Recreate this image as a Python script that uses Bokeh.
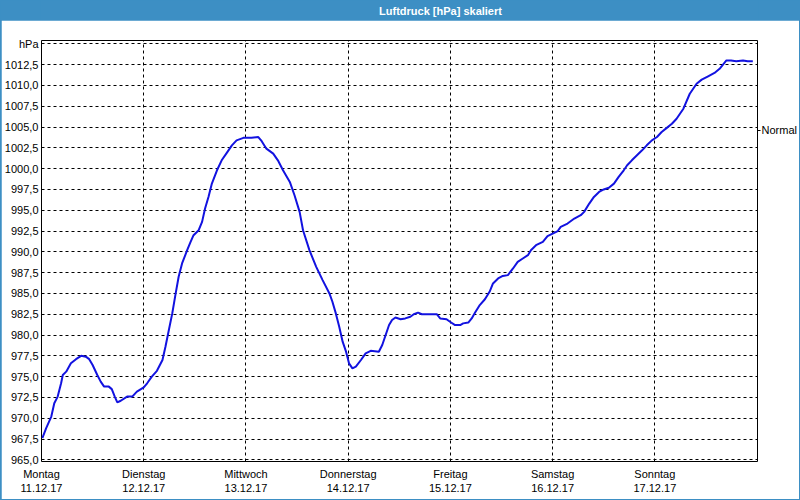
from bokeh.plotting import figure
from bokeh.models import (FixedTicker, LinearAxis, CustomJSTickFormatter, Label, Range1d)
from bokeh.layouts import column
from bokeh.embed import file_html
from bokeh.resources import INLINE

title_text = "Luftdruck [hPa] skaliert"

# time in hours since Monday 11.12.17 00:00
hours = [0.2, 1.1, 2.3, 3.0, 3.8, 4.6, 5.0, 5.8, 6.9, 8.1, 9.3, 10.4, 11.2, 12.0, 13.1, 13.9,
         14.7, 15.8, 16.5, 17.2, 17.8, 18.6, 20.1, 21.3, 22.4, 24.0, 24.8, 25.9, 27.1, 28.4,
         29.1, 29.9, 30.7, 31.5, 32.2, 33.0, 34.2, 35.0, 35.7, 36.9, 37.7, 38.4, 39.2, 40.0,
         41.2, 42.3, 43.5, 44.7, 45.8, 47.4, 49.3, 50.9, 51.7, 52.8, 54.4, 55.5, 56.7, 58.3,
         59.4, 60.6, 61.4, 62.9, 64.5, 66.0, 67.6, 68.3, 69.1, 69.9, 70.7, 71.5, 72.2, 73.0,
         73.8, 75.0, 76.1, 77.3, 79.2, 80.0, 80.8, 81.6, 82.3, 83.1, 84.3, 85.4, 86.6, 87.4,
         88.4, 89.3, 92.8, 93.6, 95.1, 95.9, 97.1, 98.3, 99.0, 100.2, 101.0, 101.8, 102.9,
         104.1, 105.2, 106.0, 107.2, 108.3, 109.5, 110.7, 111.8, 113.0, 114.2, 114.9, 116.1,
         117.7, 118.8, 120.0, 121.2, 121.9, 123.5, 125.1, 126.6, 127.4, 128.6, 129.7, 130.9,
         132.0, 133.2, 134.4, 135.5, 136.7, 137.5, 138.6, 139.8, 141.0, 142.1, 143.3, 144.5,
         145.6, 146.8, 148.0, 149.1, 150.7, 152.2, 153.8, 155.0, 156.5, 158.0, 159.2, 160.8,
         161.9, 163.1, 164.7, 165.8, 167.0]
pressure = [967.6, 968.8, 970.2, 971.8, 972.6, 974.2, 975.2, 975.6, 976.6, 977.1, 977.5, 977.4,
            977.1, 976.4, 975.2, 974.4, 973.8, 973.8, 973.5, 972.6, 971.9, 972.1, 972.6, 972.6,
            973.2, 973.7, 974.2, 975.0, 975.7, 977.0, 978.6, 980.6, 982.6, 985.0, 987.0, 988.6,
            990.2, 991.2, 992.0, 992.6, 993.6, 995.2, 996.6, 998.2, 999.8, 1001.0, 1001.9,
            1002.8, 1003.4, 1003.7, 1003.7, 1003.8, 1003.3, 1002.4, 1001.8, 1001.0, 999.8,
            998.4, 996.8, 994.8, 992.6, 990.2, 988.2, 986.6, 985.0, 984.0, 982.6, 981.0, 979.2,
            978.0, 976.6, 976.0, 976.2, 977.0, 977.8, 978.1, 978.0, 978.8, 980.0, 981.2, 981.8,
            982.1, 981.9, 982.0, 982.2, 982.5, 982.7, 982.5, 982.5, 982.0, 981.9, 981.6, 981.2,
            981.2, 981.4, 981.5, 982.0, 982.7, 983.6, 984.3, 985.2, 986.2, 986.8, 987.1, 987.2,
            988.0, 988.8, 989.2, 989.6, 990.2, 990.8, 991.2, 991.9, 992.2, 992.5, 993.0, 993.4,
            994.0, 994.4, 994.8, 995.8, 996.6, 997.2, 997.5, 997.7, 998.2, 999.0, 999.8, 1000.4,
            1001.0, 1001.6, 1002.2, 1002.8, 1003.4, 1003.8, 1004.4, 1004.9, 1005.4, 1006.0,
            1007.2, 1009.0, 1010.2, 1010.7, 1011.1, 1011.5, 1012.0, 1013.0, 1013.0, 1012.9,
            1013.0, 1012.9, 1012.9]

x_tick_values = [0, 24, 48, 72, 96, 120, 144]
x_tick_labels = ["Montag\n11.12.17", "Dienstag\n12.12.17", "Mittwoch\n13.12.17",
                 "Donnerstag\n14.12.17", "Freitag\n15.12.17", "Samstag\n16.12.17",
                 "Sonntag\n17.12.17"]
y_tick_values = [965.0, 967.5, 970.0, 972.5, 975.0, 977.5, 980.0, 982.5, 985.0, 987.5, 990.0,
                 992.5, 995.0, 997.5, 1000.0, 1002.5, 1005.0, 1007.5, 1010.0, 1012.5, 1015.0]
y_tick_labels = ["965,0", "967,5", "970,0", "972,5", "975,0", "977,5", "980,0", "982,5",
                 "985,0", "987,5", "990,0", "992,5", "995,0", "997,5", "1000,0", "1002,5",
                 "1005,0", "1007,5", "1010,0", "1012,5", "hPa"]
normal_value = [1004.6]
normal_label = ["Normal"]

BLUE_BAR = "#3d8fc4"
FONT = "Liberation Sans"

# title bar
pt = figure(width=800, height=20, x_range=(0, 1), y_range=(0, 1), toolbar_location=None,
            output_backend="svg", min_border=0, background_fill_color=BLUE_BAR,
            border_fill_color=BLUE_BAR, outline_line_color=None)
pt.axis.visible = False
pt.grid.visible = False
pt.add_layout(Label(x=400, y=10, x_units="screen", y_units="screen", text=title_text,
                    text_align="center", text_baseline="middle", text_color="white",
                    text_font=FONT, text_font_size="11px", text_font_style="bold"))

lookup_code = """
let best = 0; let d = 1e9;
for (let i = 0; i < vals.length; i++) {
  const dd = Math.abs(vals[i] - tick);
  if (dd < d) { d = dd; best = i; }
}
return labs[best];
"""

p = figure(width=798, height=479, toolbar_location=None, output_backend="svg",
           x_range=Range1d(0, 168.1), y_range=Range1d(964.8, 1015.4),
           min_border_left=39, min_border_right=39, min_border_top=20, min_border_bottom=38,
           background_fill_color="white", border_fill_color="white",
           outline_line_color="black", outline_line_width=1, margin=(0, 1, 1, 1),
           x_axis_location=None, y_axis_location=None)

xaxis = LinearAxis(ticker=FixedTicker(ticks=x_tick_values),
                   formatter=CustomJSTickFormatter(args=dict(vals=x_tick_values, labs=x_tick_labels), code=lookup_code))
yaxis = LinearAxis(ticker=FixedTicker(ticks=y_tick_values),
                   formatter=CustomJSTickFormatter(args=dict(vals=y_tick_values, labs=y_tick_labels), code=lookup_code))
raxis = LinearAxis(ticker=FixedTicker(ticks=normal_value),
                   formatter=CustomJSTickFormatter(args=dict(vals=normal_value, labs=normal_label), code=lookup_code))
for ax in (xaxis, yaxis, raxis):
    ax.axis_line_color = None
    ax.major_tick_in = 0
    ax.major_tick_out = 0
    ax.minor_tick_line_color = None
    ax.major_label_text_font = FONT
    ax.major_label_text_font_size = "11px"
    ax.major_label_text_color = "black"
xaxis.major_label_standoff = 6
yaxis.major_label_standoff = 3
raxis.major_tick_out = 3
raxis.major_tick_line_color = "black"
raxis.major_label_standoff = 1
p.add_layout(xaxis, "below")
p.add_layout(yaxis, "left")
p.add_layout(raxis, "right")

p.xgrid.ticker = FixedTicker(ticks=x_tick_values)
p.ygrid.ticker = FixedTicker(ticks=y_tick_values)
for g in (p.xgrid, p.ygrid):
    g.grid_line_color = "black"
    g.grid_line_alpha = 1.0
    g.grid_line_dash = "3 3"
    g.grid_line_width = 1

p.line(hours, pressure, line_color="#1212e0", line_width=2)

layout = column(pt, p, spacing=0, styles={"background-color": BLUE_BAR})
open("out.html", "w").write(file_html(layout, INLINE))
